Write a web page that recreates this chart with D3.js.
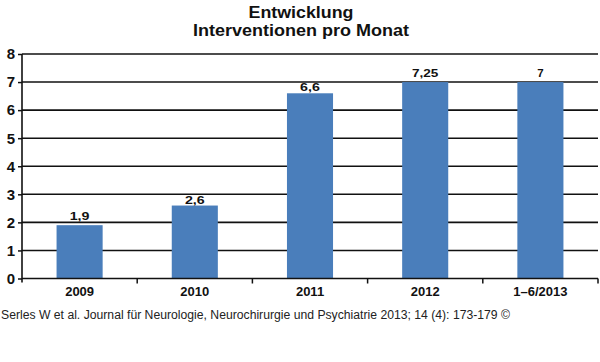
<!DOCTYPE html>
<html><head><meta charset="utf-8">
<script src="https://cdn.jsdelivr.net/npm/d3@7"></script>
<style>body{margin:0;background:#fff}svg{display:block}</style>
</head><body>
<svg id="c" width="600" height="362"></svg>
<script>
const categories = ["2009","2010","2011","2012","1–6/2013"];
// bar heights as drawn in the reference (2012 bar reaches the 7 line)
const values = [1.9, 2.6, 6.6, 7, 7];
const valueLabels = ["1,9","2,6","6,6","7,25","7"];
const yTicks = [0,1,2,3,4,5,6,7,8];
const titleLines = ["Entwicklung","Interventionen pro Monat"];
const footer = "Serles W et al. Journal für Neurologie, Neurochirurgie und Psychiatrie 2013; 14 (4): 173-179 ©";

const svg = d3.select("#c");
const L = 22, R = 598, T = 54, B = 278.5;
const x = d3.scaleBand().domain(categories).range([L, R]).paddingInner(0.6).paddingOuter(0.3);
const y = d3.scaleLinear().domain([0, 8]).range([B, T]);
const font = "'Liberation Sans', Arial, sans-serif";

// title
svg.append("g").selectAll("text").data(titleLines).join("text")
  .attr("x", 301).attr("y", (d,i) => 18 + i*17.5)
  .attr("text-anchor", "middle").attr("font-family", font)
  .attr("font-weight", "bold").attr("font-size", 16.5).attr("fill", "#111")
  .attr("textLength", (d,i) => i === 0 ? 105 : 216).attr("lengthAdjust", "spacingAndGlyphs")
  .text(d => d);

// gridlines
svg.append("g").selectAll("line").data(yTicks.filter(d => d > 0)).join("line")
  .attr("x1", L).attr("x2", R).attr("y1", d => y(d)).attr("y2", d => y(d))
  .attr("stroke", "#111").attr("stroke-width", 1.6);

// bars
svg.append("g").selectAll("rect").data(values).join("rect")
  .attr("x", (d,i) => x(categories[i])).attr("width", x.bandwidth())
  .attr("y", d => y(d)).attr("height", d => y(0) - y(d))
  .attr("fill", "#4a7ebb");

// value labels: tucked under the gridline above when there is room
function labelY(d) {
  const top = y(d);
  const above = y(Math.ceil(d - 1e-9));
  const gap = top - above;
  return gap >= 9.5 ? top - 2 : top - 5;
}
svg.append("g").selectAll("text").data(values).join("text")
  .attr("x", (d,i) => x(categories[i]) + x.bandwidth()/2)
  .attr("y", d => labelY(d))
  .attr("text-anchor", "middle").attr("font-family", font)
  .attr("font-weight", "bold").attr("font-size", 11.5).attr("fill", "#111")
  .attr("textLength", (d,i) => valueLabels[i].length === 1 ? null : valueLabels[i].length * 6.6)
  .attr("lengthAdjust", "spacingAndGlyphs")
  .text((d,i) => valueLabels[i]);

// y axis
const yAxis = svg.append("g").attr("transform", `translate(${L},0)`)
  .call(d3.axisLeft(y).tickValues(yTicks).tickSize(4).tickPadding(3).tickFormat(d3.format("d")));
yAxis.select(".domain").attr("stroke", "#111").attr("stroke-width", 1.6).attr("d", `M0,${B+4}V${T}`);
yAxis.selectAll(".tick line").attr("stroke", "#111").attr("stroke-width", 1.5);
yAxis.selectAll(".tick text").attr("font-family", font).attr("font-weight", "bold")
  .attr("font-size", 15).attr("fill", "#111");

// x axis
svg.append("line").attr("x1", L).attr("x2", R).attr("y1", B).attr("y2", B)
  .attr("stroke", "#111").attr("stroke-width", 1.6);
svg.append("g").selectAll("line").data(categories).join("line")
  .attr("x1", (c) => x(c) + x.bandwidth() + (x.step()-x.bandwidth())/2)
  .attr("x2", (c) => x(c) + x.bandwidth() + (x.step()-x.bandwidth())/2)
  .attr("y1", B).attr("y2", B + 5)
  .attr("stroke", "#111").attr("stroke-width", 1.5);
const xAxis = svg.append("g").attr("transform", `translate(0,${B})`)
  .call(d3.axisBottom(x).tickSize(0).tickPadding(6));
xAxis.select(".domain").remove();
xAxis.selectAll(".tick text").attr("font-family", font).attr("font-weight", "bold")
  .attr("font-size", 13).attr("fill", "#111").attr("dy", "0.9em");

// footer
svg.append("text").attr("x", 1).attr("y", 319)
  .attr("font-family", font).attr("font-size", 12).attr("fill", "#222")
  .attr("textLength", 509).attr("lengthAdjust", "spacingAndGlyphs")
  .text(footer);
</script>
</body></html>
